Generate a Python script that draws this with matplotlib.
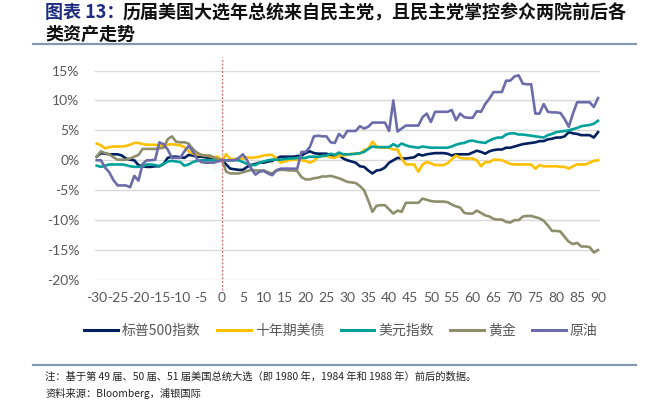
import numpy as np
import matplotlib
matplotlib.use('Agg')
import matplotlib.pyplot as plt
from matplotlib.lines import Line2D

# days relative to election day
days = np.arange(-30, 91)

# cumulative change, %
spx = [0.6, 1.2, 1.1, 1.0, 1.0, 1.0, 0.8, 0.3, 0.1, 0.0, -0.8, -1.0, -1.1, -1.1, -1.0,
       -1.0, -0.6, 0.4, 0.6, 0.6, 0.5, 0.4, 0.9, 0.8, 0.6, 0.6, 0.5, 0.4, 0.4, 0.3,
       0.0, -0.7, -1.4, -1.5, -1.6, -1.6, -1.1, -0.8, -0.6, -0.4, -0.4, -0.2, -0.1, 0.3, 0.6,
       0.6, 0.6, 0.6, 0.7, 0.8, 1.2, 1.5, 1.2, 1.1, 1.1, 1.1, 0.8, 0.6, 0.9, 0.3,
       0.0, -0.2, -0.4, -1.0, -1.1, -1.7, -2.2, -1.7, -1.6, -1.2, -0.4, 0.0, 0.4, 0.3, 0.3,
       0.4, 0.5, 1.0, 0.8, 1.0, 1.1, 1.2, 1.2, 1.2, 1.1, 0.8, 1.0, 1.0, 1.0, 1.0,
       1.3, 1.6, 1.4, 1.1, 1.5, 1.7, 1.8, 1.8, 2.1, 2.1, 2.3, 2.5, 2.7, 2.8, 2.9,
       3.0, 3.2, 3.2, 3.5, 3.6, 3.8, 3.8, 4.0, 4.7, 4.5, 4.4, 4.2, 4.2, 4.2, 3.8, 4.7]

ust10y = [2.8, 2.5, 2.0, 2.2, 2.3, 2.3, 2.3, 2.4, 2.6, 2.9, 2.9, 2.7, 2.6, 2.6, 2.6,
          2.5, 2.4, 2.6, 2.7, 2.6, 2.5, 2.2, 1.5, 1.1, 1.0, 0.9, 0.8, 0.7, 0.5, 0.6,
          0.0, 1.0, 0.2, 0.2, 0.2, 0.3, 0.5, 0.4, 0.5, 0.6, 0.8, 0.9, 0.9, 0.3, -0.4,
          -0.2, 0.0, 0.1, 0.1, 0.0, -0.1, -0.4, -0.1, 0.6, 0.7, 0.7, 0.5, 0.4, 0.8, 0.8,
          0.9, 1.1, 1.1, 1.1, 1.7, 1.9, 3.1, 2.3, 2.1, 2.1, 2.1, 1.8, 1.8, 0.3, -0.7,
          -0.7, -0.7, -1.9, -0.7, -0.3, -0.5, -0.8, -0.8, -0.8, -0.5, 0.2, 0.8, 0.4, 0.3, 0.3,
          0.3, 0.0, -1.0, -0.3, -0.3, 0.1, 0.1, 0.0, -0.3, -0.6, -0.7, -0.7, -0.7, -0.7, -0.7,
          -1.4, -0.8, -1.0, -1.0, -1.0, -1.0, -1.1, -1.1, -1.4, -1.0, -0.7, -0.7, -0.7, -0.4, -0.1, 0.0]

dxy = [-0.9, -1.1, -0.9, -0.7, -0.7, -0.7, -0.7, -0.8, -1.0, -1.1, -1.1, -1.0, -0.7, -0.7, -0.8,
       -1.0, -0.6, -0.2, -0.1, -0.2, -0.3, -0.9, -0.7, -0.3, -0.1, 0.0, 0.0, 0.0, 0.0, 0.0,
       0.0, 0.0, 0.0, 0.0, 0.0, -0.3, -0.6, -0.8, -0.8, -0.4, -0.2, 0.0, 0.1, 0.1, 0.1,
       0.2, 0.3, 0.3, 0.4, 0.4, 0.4, 0.6, 0.6, 0.6, 0.7, 0.8, 1.1, 0.9, 1.3, 1.0,
       1.0, 1.0, 1.1, 1.2, 1.4, 1.9, 2.3, 2.2, 2.2, 2.2, 2.2, 2.7, 2.3, 2.8, 2.5,
       2.3, 2.2, 2.1, 2.3, 2.2, 2.1, 2.1, 2.1, 2.1, 2.1, 2.3, 2.6, 2.8, 2.9, 3.2,
       3.3, 3.1, 3.0, 2.9, 3.3, 3.6, 3.8, 3.8, 4.3, 4.5, 4.5, 4.3, 4.3, 4.2, 4.1,
       4.0, 3.9, 3.8, 4.2, 4.4, 4.7, 4.8, 4.9, 5.0, 5.2, 5.4, 5.7, 5.8, 5.9, 6.1, 6.6]

gold = [0.6, 1.5, 1.2, 1.0, 0.5, 0.1, 0.1, 0.1, 0.3, 0.6, 0.9, 1.9, 1.9, 1.9, 1.9,
        2.0, 2.1, 3.5, 4.0, 3.1, 3.0, 3.0, 2.8, 1.9, 1.3, 0.9, 0.8, 0.8, 0.5, 0.2,
        0.0, -1.9, -2.2, -2.2, -2.2, -2.0, -1.8, -1.6, -1.7, -1.7, -1.7, -2.0, -2.2, -1.7, -1.6,
        -1.6, -1.7, -1.7, -1.8, -2.8, -3.2, -3.2, -3.0, -2.9, -2.7, -2.7, -2.6, -2.8, -3.0, -3.3,
        -3.6, -3.7, -3.8, -4.3, -5.0, -6.7, -8.6, -7.6, -7.5, -7.5, -8.2, -8.9, -8.4, -8.6, -7.1,
        -7.1, -7.1, -7.1, -6.4, -6.6, -6.8, -6.9, -6.9, -6.9, -7.0, -7.4, -7.7, -7.9, -8.8, -8.9,
        -8.9, -8.4, -8.8, -9.2, -9.4, -9.8, -9.9, -9.9, -10.3, -10.4, -10.0, -10.0, -9.4, -9.3, -9.3,
        -9.5, -9.7, -10.1, -10.9, -11.8, -11.8, -11.9, -12.8, -13.6, -14.0, -13.8, -14.4, -14.4, -14.5, -15.4, -15.0]

oil = [0.0, 0.0, -1.2, -2.0, -3.3, -4.2, -4.2, -4.2, -4.5, -2.6, -3.4, -0.6, 0.0, 0.0, 0.1,
       3.0, 2.7, 1.8, 0.4, 0.4, 0.4, 1.5, 2.4, 1.5, 0.2, -0.3, -0.4, -0.4, -0.4, -0.2,
       0.0, 0.0, 0.0, 0.0, 0.4, 1.0, 0.0, -1.4, -2.4, -1.9, -1.8, -2.2, -2.5, -1.7, -1.4,
       -1.4, -1.4, -1.4, -1.4, 1.4, 1.4, 2.2, 4.0, 4.1, 4.0, 4.0, 3.0, 2.9, 4.4, 3.8,
       4.9, 4.9, 4.9, 5.7, 5.3, 5.6, 6.3, 6.3, 6.3, 6.3, 4.9, 10.0, 4.8, 5.3, 5.8,
       5.8, 5.8, 5.8, 7.2, 7.8, 6.4, 8.1, 8.1, 8.1, 8.1, 8.4, 6.7, 7.8, 7.2, 7.1,
       7.1, 8.2, 8.1, 9.4, 10.3, 11.4, 11.4, 11.4, 13.3, 13.3, 14.0, 14.2, 12.8, 12.7, 12.7,
       7.8, 7.8, 9.4, 8.1, 8.0, 8.0, 7.9, 6.9, 5.6, 7.8, 9.7, 9.7, 9.7, 9.7, 8.9, 10.4]

series_names = ['标普500指数', '十年期美债', '美元指数', '黄金', '原油']
series_colors = ['#002060', '#FFC000', '#00A19A', '#8E8E6C', '#6C6CAA']
y_ticks = [15, 10, 5, 0, -5, -10, -15, -20]
x_ticks = list(range(-30, 91, 5))

title_head = '图表 13：'
title_line1 = '历届美国大选年总统来自民主党，且民主党掌控参众两院前后各'
title_line2 = '类资产走势'
note_text = '注：基于第 49 届、50 届、51 届美国总统大选（即 1980 年，1984 年和 1988 年）前后的数据。'
source_text = '资料来源：Bloomberg，浦银国际'

cjk = ['Noto Sans CJK SC', 'DejaVu Sans']
plt.rcParams['font.family'] = cjk

W, H = 650, 411
fig = plt.figure(figsize=(W / 100, H / 100), dpi=100)


def fx(px):
    return px / W


def fy(py):
    return 1 - py / H


ax = fig.add_axes([fx(94.6), fy(280), fx(600.1) - fx(94.6), fy(70.5) - fy(280)])

for vals, name, col in zip([spx, ust10y, dxy, gold, oil], series_names, series_colors):
    ax.plot(days, vals, color=col, lw=1.9, label=name, solid_joinstyle='round')

ax.set_xlim(-30.5, 90.5)
ax.set_ylim(-20, 15)
ax.set_yticks(y_ticks)
ax.set_yticklabels([f'{v}%' for v in y_ticks])
ax.set_xticks(x_ticks)
ax.set_xticklabels([str(v) for v in x_ticks])
ax.grid(axis='y', color='#D9D9D9', lw=1)
ax.set_axisbelow(True)
for s in ax.spines.values():
    s.set_visible(False)
ax.tick_params(length=0, labelsize=10, labelcolor='#595959')
ax.tick_params(axis='y', pad=11)
ax.tick_params(axis='x', pad=9)
for lab in ax.get_xticklabels() + ax.get_yticklabels():
    lab.set_family(['Lato', 'DejaVu Sans'])

# election day marker
ax.axvline(0, ymin=-0.05, ymax=1.065, color='#E06666', lw=0.9, ls=(0, (1.5, 1.5)), clip_on=False)

handles = [Line2D([], [], color=c, lw=2.2) for c in series_colors]
leg = fig.legend(handles, series_names, loc='center', bbox_to_anchor=(fx(341), fy(331)),
                 ncol=5, frameon=False, fontsize=10, handlelength=2.4, handletextpad=0.3,
                 columnspacing=1.2)
for t in leg.get_texts():
    t.set_color('#595959')

# title
fig.text(fx(45), fy(13), title_head, fontsize=13, fontweight='bold', color='#1F2D80', va='center')
fig.text(fx(123), fy(13), title_line1, fontsize=13, fontweight='bold', color='#111111', va='center')
fig.text(fx(45), fy(34), title_line2, fontsize=13, fontweight='bold', color='#111111', va='center')
fig.add_artist(Line2D([fx(33), fx(636)], [fy(44.5), fy(44.5)], color='#8497B0', lw=1.6))

# footer
fig.add_artist(Line2D([fx(33), fx(636)], [fy(365), fy(365)], color='#8497B0', lw=1.6))
fig.text(fx(45), fy(377), note_text, fontsize=7.4, color='#222222', va='center')
fig.text(fx(45), fy(393), source_text, fontsize=7.4, color='#222222', va='center')

fig.savefig('out.png', dpi=100)
